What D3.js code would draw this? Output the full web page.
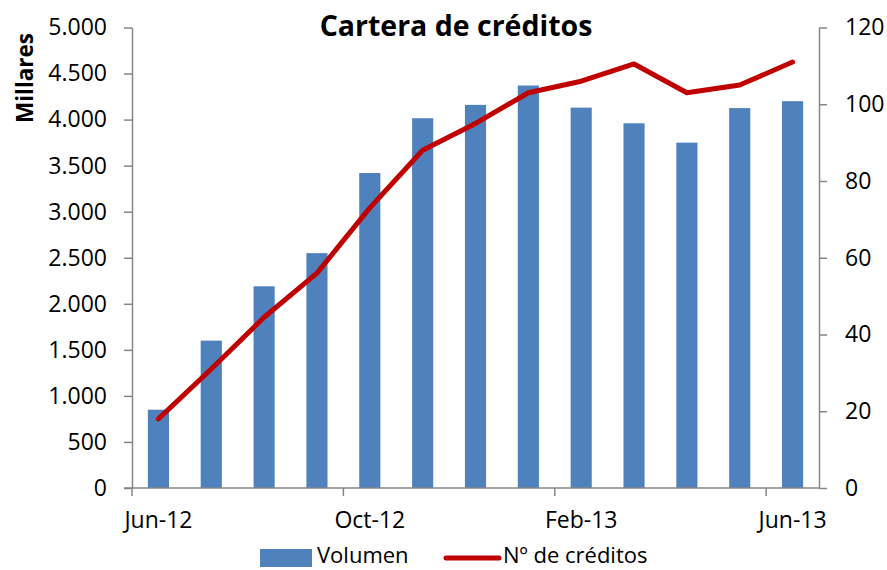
<!DOCTYPE html>
<html>
<head>
<meta charset="utf-8">
<script src="https://cdn.jsdelivr.net/npm/d3@7"></script>
<style>
  body { margin: 0; background: #fff; }
  svg text { font-family: "Open Sans", sans-serif; fill: #000; }
  .axis path, .axis line { stroke: #868686; stroke-width: 1.5; }
</style>
</head>
<body>
<div id="chart"></div>
<script>
// --------- DATA ---------
const months = ["Jun-12", "Jul-12", "Aug-12", "Sep-12", "Oct-12", "Nov-12", "Dec-12",
                "Jan-13", "Feb-13", "Mar-13", "Apr-13", "May-13", "Jun-13"];
const volumen = [850, 1600, 2190, 2550, 3420, 4015, 4160, 4370, 4130, 3960, 3750, 4125, 4200];
const creditos = [18, 31, 44.5, 56, 73, 88, 95, 103, 106, 110.5, 103, 105, 111];
const xTickMonths = ["Jun-12", "Oct-12", "Feb-13", "Jun-13"];
const leftTicks = [0, 500, 1000, 1500, 2000, 2500, 3000, 3500, 4000, 4500, 5000];
const rightTicks = [0, 20, 40, 60, 80, 100, 120];

const width = 887, height = 570;
const margin = {top: 27.5, right: 68, bottom: 82, left: 132};

let svg = d3.select("#chart")
    .append("svg")
    .attr("width", width)
    .attr("height", height);

// Scales
let x = d3.scaleBand()
    .domain(months)
    .range([margin.left, width - margin.right])
    .paddingInner(0.6)
    .paddingOuter(0.3);

let yL = d3.scaleLinear()
    .domain([0, 5000])
    .range([height - margin.bottom, margin.top]);

let yR = d3.scaleLinear()
    .domain([0, 120])
    .range([height - margin.bottom, margin.top]);

let es = d3.formatLocale({decimal: ",", thousands: ".", grouping: [3], currency: ["", ""]});
let fmt = es.format(",d");

// Bars
svg.append("g")
    .selectAll("rect")
    .data(volumen)
    .join("rect")
    .attr("x", (d, i) => x(months[i]))
    .attr("y", d => yL(d))
    .attr("width", x.bandwidth())
    .attr("height", d => yL(0) - yL(d))
    .attr("fill", "#4F81BD");

// Left axis
let leftAxis = svg.append("g")
    .attr("class", "axis")
    .attr("transform", "translate(" + margin.left + ",0)")
    .call(d3.axisLeft(yL).tickValues(leftTicks).tickFormat(fmt).tickSize(8).tickSizeOuter(0).tickPadding(17));
leftAxis.selectAll("text").style("font-size", "23px");

// Right axis
let rightAxis = svg.append("g")
    .attr("class", "axis")
    .attr("transform", "translate(" + (width - margin.right) + ",0)")
    .call(d3.axisRight(yR).tickValues(rightTicks).tickSize(8).tickSizeOuter(0).tickPadding(18));
rightAxis.selectAll("text").style("font-size", "23px");

// Bottom axis: ticks at slot edges, labels centred on bars
let half = x.step() / 2;
let bottomAxis = svg.append("g")
    .attr("class", "axis")
    .attr("transform", "translate(0," + yL(0) + ")")
    .call(d3.axisBottom(x).tickValues(xTickMonths).tickSize(8).tickSizeOuter(0).tickPadding(16));
bottomAxis.select(".domain")
    .attr("d", "M" + (margin.left - 8) + ",0H" + (width - margin.right));
bottomAxis.selectAll(".tick line").attr("x1", -half).attr("x2", -half);
bottomAxis.selectAll("text").style("font-size", "23px");

// Line
let line = d3.line()
    .x((d, i) => x(months[i]) + x.bandwidth() / 2)
    .y(d => yR(d));

svg.append("path")
    .datum(creditos)
    .attr("fill", "none")
    .attr("stroke", "#C00000")
    .attr("stroke-width", 5)
    .attr("stroke-linejoin", "round")
    .attr("stroke-linecap", "round")
    .attr("d", line);

// Title
svg.append("text")
    .attr("x", 456)
    .attr("y", 36)
    .attr("text-anchor", "middle")
    .style("font-size", "28.5px")
    .style("font-weight", "bold")
    .text("Cartera de créditos");

// Y axis title
svg.append("text")
    .attr("transform", "translate(33,78) rotate(-90)")
    .attr("text-anchor", "middle")
    .style("font-size", "22.5px")
    .style("font-weight", "bold")
    .text("Millares");

// Legend
let legend = svg.append("g");
legend.append("rect")
    .attr("x", 260).attr("y", 549)
    .attr("width", 52).attr("height", 18)
    .attr("fill", "#4F81BD");
legend.append("text")
    .attr("x", 317).attr("y", 563)
    .style("font-size", "22px")
    .text("Volumen");
legend.append("line")
    .attr("x1", 446).attr("x2", 499)
    .attr("y1", 558).attr("y2", 558)
    .attr("stroke", "#C00000")
    .attr("stroke-width", 5)
    .attr("stroke-linecap", "round");
legend.append("text")
    .attr("x", 503).attr("y", 563)
    .style("font-size", "22px")
    .text("Nº de créditos");
</script>
</body>
</html>
